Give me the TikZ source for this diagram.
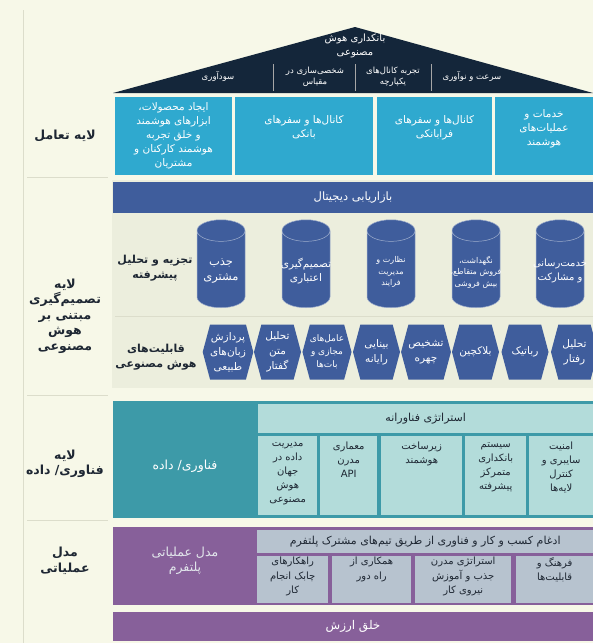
\documentclass[tikz,border=0pt]{standalone}
\usepackage{fontspec}
\usepackage{xcolor}
\usepackage{tikz}
\usetikzlibrary{shapes.geometric, shapes.symbols, positioning}
\TeXXeTstate=1
\newfontfamily\fafont[Script=Arabic]{DejaVu Sans}
\newcommand{\rl}[1]{\beginR #1\endR}

\definecolor{bgcream}{HTML}{F7F8E8}
\definecolor{panelc}{HTML}{ECEEDD}
\definecolor{roofc}{HTML}{14263A}
\definecolor{cyanc}{HTML}{2FA9CF}
\definecolor{bluec}{HTML}{3F5D9C}
\definecolor{tealc}{HTML}{3D9AA8}
\definecolor{teallt}{HTML}{B3DCDA}
\definecolor{purplec}{HTML}{87609A}
\definecolor{purplelt}{HTML}{B7C3CF}
\definecolor{inkc}{HTML}{1E2733}
\definecolor{linec}{HTML}{DCDDCB}

\begin{document}
\begin{tikzpicture}[x=1pt, y=-1pt,
                every node/.style={font=\fafont, align=center, inner sep=1pt},
                layer/.style={font=\fafont\bfseries\fontsize{12.5}{15.5}\selectfont, text=inkc},
                sublayer/.style={font=\fafont\bfseries\fontsize{11}{15}\selectfont, text=inkc},
                roofitem/.style={text=white, font=\fafont\fontsize{8.5}{11}\selectfont},
                ibox/.style={rectangle, fill=cyanc, text=white, minimum height=78pt, font=\fafont\fontsize{10.5}{14}\selectfont},
                bar/.style={rectangle, fill=bluec, text=white, minimum width=480pt, font=\fafont\fontsize{11.5}{13}\selectfont},
                dbcyl/.style={cylinder, shape border rotate=90, aspect=0.47, fill=bluec, draw=bluec!50!white, line width=0.5pt,
                              minimum width=48pt, minimum height=88pt, anchor=south},
                cyltext/.style={text=white, font=\fafont\fontsize{10.5}{14}\selectfont},
                hexa/.style={signal, signal to=east and west, signal pointer angle=150, fill=bluec, text=white,
                             minimum width=47pt, minimum height=55pt, inner sep=0pt, font=\fafont\fontsize{10.5}{15}\selectfont},
                subbox/.style={rectangle, anchor=north west},
                subtext/.style={text=inkc, font=\fafont\fontsize{10}{14}\selectfont},
                sepline/.style={draw=linec, line width=0.8pt}
            ]
                \useasboundingbox (0,0) rectangle (593,643);
                \fill[bgcream] (0,0) rectangle (593,643);

                % left column
                \draw[sepline] (23,10) -- (23,643);
                \draw[sepline] (27,177) -- (108,177);
                \draw[sepline] (27,395) -- (108,395);
                \draw[sepline] (27,520) -- (108,520);
                \node[layer] (lyr1) at (65,136) {\rl{لایه تعامل}};
                \node[layer] (lyr2) at (65,316) {\rl{لایه}\\\rl{تصمیم‌گیری}\\\rl{مبتنی بر}\\\rl{هوش}\\\rl{مصنوعی}};
                \node[layer] (lyr3) at (65,464) {\rl{لایه}\\\rl{فناوری\hbox{/} داده}};
                \node[layer] (lyr4) at (65,561) {\rl{مدل}\\\rl{عملیاتی}};

                % roof
                \fill[roofc] (113,93) -- (355,27) -- (593,93) -- cycle;
                \draw[gray!70] (273,64) -- (273,91) (355,64) -- (355,91) (431,64) -- (431,91);
                \node[text=white, font=\fafont\fontsize{10}{14}\selectfont] (bank) at (355,46) {\rl{بانکداری هوش}\\\rl{مصنوعی}};
                \node[roofitem] (prof) at (218,77) {\rl{سودآوری}};
                \node[roofitem] (pers) at (315,77) {\rl{شخصی‌سازی در}\\\rl{مقیاس}};
                \node[roofitem] (omni) at (393,77) {\rl{تجربه کانال‌های}\\\rl{یکپارچه}};
                \node[roofitem] (speed) at (472,77) {\rl{سرعت و نوآوری}};

                % interaction layer
                \node[ibox, minimum width=117pt] (prod) at (173.5,136) {\rl{ایجاد محصولات\hbox{،}}\\\rl{ابزارهای هوشمند}\\\rl{و خلق تجربه}\\\rl{هوشمند کارکنان و}\\\rl{مشتریان}};
                \node[ibox, minimum width=138pt] (bank1) at (304,136) {\rl{کانال‌ها و سفرهای}\\\rl{بانکی}\\[4pt]};
                \node[ibox, minimum width=115pt] (bank2) at (434.5,136) {\rl{کانال‌ها و سفرهای}\\\rl{فرابانکی}\\[4pt]};
                \node[ibox, minimum width=98pt] (serv) at (544,136) {\rl{خدمات و}\\\rl{عملیات‌های}\\\rl{هوشمند}\\[2pt]};

                % decision layer
                \fill[panelc] (112,180) rectangle (593,388);
                \node[bar, minimum height=31pt] (mkt) at (353,197.5) {\rl{بازاریابی دیجیتال}};
                \node[sublayer] (anl) at (155,268) {\rl{تجزیه و تحلیل}\\\rl{پیشرفته}};
                \node[dbcyl] (c1) at (221,308) {\hspace*{44pt}};
                \node[dbcyl] (c2) at (306,308) {\hspace*{44pt}};
                \node[dbcyl] (c3) at (391,308) {\hspace*{44pt}};
                \node[dbcyl] (c4) at (476,308) {\hspace*{44pt}};
                \node[dbcyl] (c5) at (560,308) {\hspace*{44pt}};
                \node[cyltext, font=\fafont\fontsize{11.5}{15}\selectfont] (c1t) at (221,271) {\rl{جذب}\\\rl{مشتری}};
                \node[cyltext] (c2t) at (306,271) {\rl{تصمیم‌گیری}\\\rl{اعتباری}};
                \node[cyltext, font=\fafont\fontsize{8}{11.5}\selectfont] (c3t) at (391,272) {\rl{نظارت و}\\\rl{مدیریت}\\\rl{فرایند}};
                \node[cyltext, font=\fafont\fontsize{8}{11.5}\selectfont] (c4t) at (476,272) {\rl{نگهداشت\hbox{،}}\\\rl{فروش متقاطع\hbox{،}}\\\rl{بیش فروشی}};
                \node[cyltext, font=\fafont\fontsize{10}{14}\selectfont] (c5t) at (560,271) {\rl{خدمت‌رسانی}\\\rl{و مشارکت}};
                \draw[sepline] (115,316) -- (593,316);

                \node[sublayer] (aicap) at (156,357) {\rl{قابلیت‌های}\\\rl{هوش مصنوعی}};
                \node[hexa] (h1) at (228,352) {\rl{پردازش}\\\rl{زبان‌های}\\\rl{طبیعی}};
                \node[hexa] (h2) at (277.5,352) {\rl{تحلیل}\\\rl{متن}\\\rl{گفتار}};
                \node[hexa, font=\fafont\fontsize{9}{13}\selectfont] (h3) at (327,352) {\rl{عامل‌های}\\\rl{مجازی و}\\\rl{بات‌ها}};
                \node[hexa] (h4) at (376.5,352) {\rl{بینایی}\\\rl{رایانه}};
                \node[hexa] (h5) at (426,352) {\rl{تشخیص}\\\rl{چهره}};
                \node[hexa] (h6) at (475.5,352) {\rl{بلاکچین}};
                \node[hexa] (h7) at (525,352) {\rl{رباتیک}};
                \node[hexa] (h8) at (574.5,352) {\rl{تحلیل}\\\rl{رفتار}};

                % technology / data layer
                \node[subbox, fill=tealc, minimum width=480pt, minimum height=117pt] (tech) at (113,401) {};
                \node[text=white, font=\fafont\fontsize{12.5}{14}\selectfont] (techlbl) at (185,466) {\rl{فناوری\hbox{/} داده}};
                \node[subbox, fill=teallt, minimum width=335pt, minimum height=29pt, text=inkc, font=\fafont\fontsize{11}{13}\selectfont] (strat) at (258,404) {\rl{استراتژی فناورانه}};
                \node[subbox, fill=teallt, minimum width=59pt, minimum height=79pt] (t1) at (258,436) {};
                \node[subbox, fill=teallt, minimum width=57pt, minimum height=79pt] (t2) at (320,436) {};
                \node[subbox, fill=teallt, minimum width=81pt, minimum height=79pt] (t3) at (381,436) {};
                \node[subbox, fill=teallt, minimum width=61pt, minimum height=79pt] (t4) at (465,436) {};
                \node[subbox, fill=teallt, minimum width=64pt, minimum height=79pt] (t5) at (529,436) {};
                \node[subtext, below=5pt of t1.north] (t1txt) {\rl{مدیریت}\\\rl{داده در}\\\rl{جهان}\\\rl{هوش}\\\rl{مصنوعی}};
                \node[subtext, below=5pt of t2.north] (t2txt) {\rl{معماری}\\\rl{مدرن}\\API};
                \node[subtext, below=5pt of t3.north] (t3txt) {\rl{زیرساخت}\\\rl{هوشمند}};
                \node[subtext, below=5pt of t4.north] (t4txt) {\rl{سیستم}\\\rl{بانکداری}\\\rl{متمرکز}\\\rl{پیشرفته}};
                \node[subtext, below=5pt of t5.north] (t5txt) {\rl{امنیت}\\\rl{سایبری و}\\\rl{کنترل}\\\rl{لایه‌ها}};

                % operating model
                \node[subbox, fill=purplec, minimum width=480pt, minimum height=78pt] (ops) at (113,527) {};
                \node[text=purplelt!40!white, font=\fafont\fontsize{12.5}{15}\selectfont] (opslbl) at (185,561) {\rl{مدل عملیاتی}\\\rl{پلتفرم}};
                \node[subbox, fill=purplelt, minimum width=336pt, minimum height=23pt, text=inkc, font=\fafont\fontsize{11}{13}\selectfont] (merge) at (257,530) {\rl{ادغام کسب و کار و فناوری از طریق تیم‌های مشترک پلتفرم}};
                \node[subbox, fill=purplelt, minimum width=71pt, minimum height=47pt] (o1) at (257,556) {};
                \node[subbox, fill=purplelt, minimum width=79pt, minimum height=47pt] (o2) at (332,556) {};
                \node[subbox, fill=purplelt, minimum width=96pt, minimum height=47pt] (o3) at (415,556) {};
                \node[subbox, fill=purplelt, minimum width=77pt, minimum height=47pt] (o4) at (516,556) {};
                \node[subtext, font=\fafont\fontsize{10}{14.5}\selectfont, below=0pt of o1.north] (o1txt) {\rl{راهکارهای}\\\rl{چابک انجام}\\\rl{کار}};
                \node[subtext, font=\fafont\fontsize{10}{14.5}\selectfont, below=0pt of o2.north] (o2txt) {\rl{همکاری از}\\\rl{راه دور}};
                \node[subtext, font=\fafont\fontsize{10}{14.5}\selectfont, below=0pt of o3.north] (o3txt) {\rl{استراتژی مدرن}\\\rl{جذب و آموزش}\\\rl{نیروی کار}};
                \node[subtext, font=\fafont\fontsize{10}{14.5}\selectfont, below=0pt of o4.north] (o4txt) {\rl{فرهنگ و}\\\rl{قابلیت‌ها}};

                \node[bar, fill=purplec, minimum height=29pt, font=\fafont\fontsize{12}{13}\selectfont] (value) at (353,626) {\rl{خلق ارزش}};
            \end{tikzpicture}
\end{document}
